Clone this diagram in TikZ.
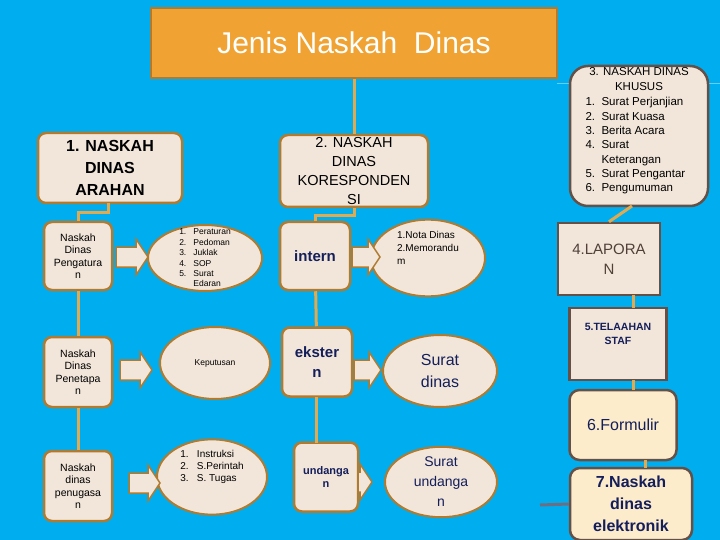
\documentclass[tikz,border=0pt]{standalone}
\usepackage{fontspec}
\setmainfont{Liberation Sans}
\usetikzlibrary{shapes.geometric}
\definecolor{bg}{RGB}{0,174,239}
\definecolor{cream}{RGB}{242,230,218}
\definecolor{brd}{RGB}{176,122,48}
\definecolor{dbrd}{RGB}{100,80,70}
\definecolor{conn}{RGB}{225,170,80}
\definecolor{navy}{RGB}{20,30,90}
\definecolor{yel}{RGB}{252,236,204}
\begin{document}
\begin{tikzpicture}[x=1pt,y=-1pt,
  rbox/.style={draw=brd,line width=2.5pt,fill=cream,rounded corners=8pt,align=center,inner sep=1pt},
  sbox/.style={draw=dbrd,line width=2.5pt,fill=cream,align=center,inner sep=1pt},
  ell/.style={draw=brd,line width=2pt,fill=cream,ellipse,inner sep=0pt},
  cn/.style={draw=conn,line width=3pt},
  barrow/.style={draw=brd,line width=1.5pt,fill=cream}]
\fill[bg] (0,0) rectangle (720,540);
\useasboundingbox (0,0) rectangle (720,540);
\draw[color=cyan!60!white,line width=0.6pt] (557,83) -- (720,83);
% title
\node[draw=brd,line width=2.5pt,fill={rgb,255:red,240;green,162;blue,50},minimum width=406pt,minimum height=70pt,text=white,font=\fontsize{30}{34}\selectfont] (title) at (354,43) {Jenis Naskah\ \ Dinas};
% top boxes
\node[rbox,minimum width=144pt,minimum height=70pt,font=\bfseries\fontsize{16}{22}\selectfont] (b1) at (110,168) {1. NASKAH\\DINAS\\ARAHAN};
\node[rbox,minimum width=148pt,minimum height=72pt,font=\fontsize{14.5}{19}\selectfont] (b2) at (354,171) {2. NASKAH\\DINAS\\KORESPONDEN\\SI};
\node[draw=dbrd,line width=2.5pt,fill=cream,rounded corners=18pt,minimum width=138pt,minimum height=140pt,font=\fontsize{11.5}{14.5}\selectfont,align=left,inner sep=0pt] (b3) at (639,136) {};
\node[font=\fontsize{11.5}{14.5}\selectfont,align=center,anchor=north] (b3t) at (639,64) {3. NASKAH DINAS\\KHUSUS};
\node[font=\fontsize{11.5}{14.3}\selectfont,align=left,anchor=north west] (b3l) at (582,94) {1.\ \ Surat Perjanjian\\2.\ \ Surat Kuasa\\3.\ \ Berita Acara\\4.\ \ Surat\\\phantom{4.}\ \ Keterangan\\5.\ \ Surat Pengantar\\6.\ \ Pengumuman};
% left column
\tikzset{lb/.style={rbox,minimum width=68pt,minimum height=68pt,font=\fontsize{10.5}{12.5}\selectfont}}
\node[lb] (l1) at (78,256) {Naskah\\Dinas\\Pengatura\\n};
\node[lb,minimum height=70pt] (l2) at (78,372) {Naskah\\Dinas\\Penetapa\\n};
\node[lb,minimum height=70pt] (l3) at (78,486) {Naskah\\dinas\\penugasa\\n};
\draw[cn] (108,203) -- (108,213) -- (78,213) -- (l1.north);
\draw[cn] (l1) -- (l2); \draw[cn] (l2) -- (l3);
% middle column
\node[rbox,minimum width=70pt,minimum height=68pt,font=\bfseries\fontsize{15}{18}\selectfont,text=navy] (m1) at (315,256) {intern};
\node[rbox,minimum width=70pt,minimum height=69pt,font=\bfseries\fontsize{15}{20}\selectfont,text=navy] (m2) at (317,362) {ekster\\n};
\node[rbox,minimum width=64pt,minimum height=69pt,font=\bfseries\fontsize{11}{13}\selectfont,text=navy] (m3) at (326,477) {undanga\\n};
\draw[cn] (b2.south) ++(0,0) -- (354,216) -- (315,216) -- (m1.north);
\draw[cn] (m1) -- (m2); \draw[cn] (316,397) -- (316,443);
\draw[cn] (title.south) -- (b2.north);
% ellipses
\node[ell,minimum width=114pt,minimum height=66pt] (e1) at (205,258) {};
\node[font=\fontsize{8.5}{10.4}\selectfont,align=left] (e1t) at (205,258) {1.\ \ \ Peraturan\\2.\ \ \ Pedoman\\3.\ \ \ Juklak\\4.\ \ \ SOP\\5.\ \ \ Surat\\\phantom{5.}\ \ \ Edaran};
\node[ell,minimum width=110pt,minimum height=72pt,font=\fontsize{8.5}{10}\selectfont] (e2) at (215,363) {Keputusan\\[12pt]};
\node[ell,minimum width=110pt,minimum height=70pt,font=\fontsize{10}{12}\selectfont,align=left] (e3) at (212,477) {1.\ \ \ Instruksi\\2.\ \ \ S.Perintah\\3.\ \ \ S. Tugas\\[10pt]};
\node[ell,minimum width=114pt,minimum height=70pt,font=\fontsize{10}{13}\selectfont,align=left] (e4) at (428,258) {1.Nota Dinas\\2.Memorandu\\m\\[8pt]};
\node[ell,minimum width=114pt,minimum height=72pt,font=\fontsize{16}{22}\selectfont,text=navy,align=center] (e5) at (440,371) {Surat\\dinas};
\node[ell,minimum width=112pt,minimum height=70pt,font=\fontsize{14}{20}\selectfont,text=navy,align=center] (e6) at (441,482) {Surat\\undanga\\n};
% block arrows
\foreach \xa/\xb/\yc in {116/148/257, 120/152/370, 129/160/483, 352/380/257, 354/381/370, 358/372/482}{
  \pgfmathsetmacro{\xm}{\xb-12}
  \draw[barrow] (\xa,\yc-10) -- (\xm,\yc-10) -- (\xm,\yc-18) -- (\xb,\yc) -- (\xm,\yc+18) -- (\xm,\yc+10) -- (\xa,\yc+10) -- cycle;
}
% right column
\node[sbox,minimum width=102pt,minimum height=72pt,font=\fontsize{15}{20}\selectfont,text=dbrd!80!black] (r4) at (609,259) {4.LAPORA\\N};
\node[sbox,minimum width=97pt,minimum height=72pt,font=\bfseries\fontsize{10.5}{14}\selectfont,text=navy] (r5) at (618,344) {5.TELAAHAN\\STAF\\[6pt]};
\node[draw=dbrd,line width=2.5pt,fill=yel,rounded corners=10pt,minimum width=107pt,minimum height=70pt,font=\fontsize{16}{20}\selectfont,text=navy] (r6) at (623,425) {6.Formulir};
\node[draw=dbrd,line width=2.5pt,fill=yel,rounded corners=10pt,minimum width=122pt,minimum height=72pt,font=\bfseries\fontsize{16}{22}\selectfont,text=navy,align=center] (r7) at (631,504) {7.Naskah\\dinas\\elektronik};
\draw[cn] (632,206) -- (r4.north);
\draw[cn] (633,295) -- (633,308);
\draw[cn] (633,380) -- (633,390);
\draw[cn] (645,460) -- (645,468);
\coordinate (lf) at (540,505);
\draw[line width=3pt,color={rgb,255:red,110;green,110;blue,130}] (lf) -- (r7.west);
\end{tikzpicture}
\end{document}
